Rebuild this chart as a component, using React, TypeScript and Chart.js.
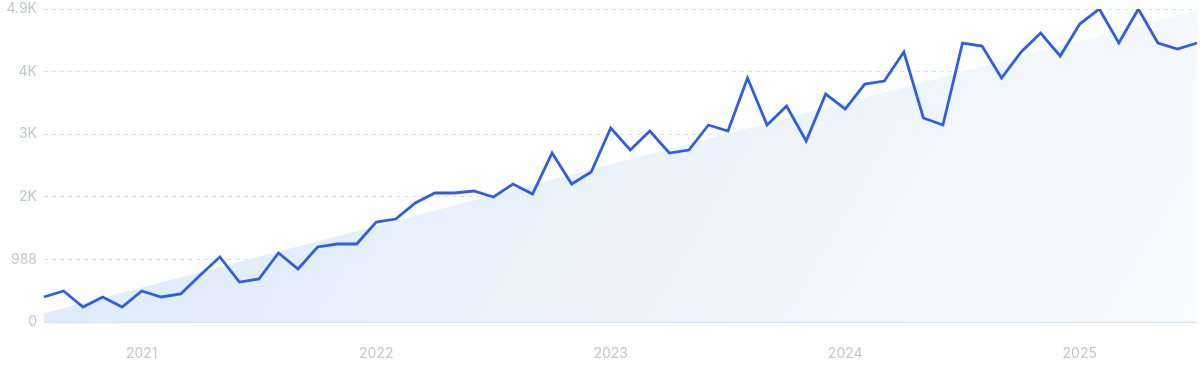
import React, { useEffect, useRef } from "react";
import { Chart, registerables } from "chart.js";

Chart.register(...registerables);

const months: string[] = [
  "Aug 2020", "Sep 2020", "Oct 2020", "Nov 2020", "Dec 2020",
  "Jan 2021", "Feb 2021", "Mar 2021", "Apr 2021", "May 2021", "Jun 2021", "Jul 2021", "Aug 2021", "Sep 2021", "Oct 2021", "Nov 2021", "Dec 2021",
  "Jan 2022", "Feb 2022", "Mar 2022", "Apr 2022", "May 2022", "Jun 2022", "Jul 2022", "Aug 2022", "Sep 2022", "Oct 2022", "Nov 2022", "Dec 2022",
  "Jan 2023", "Feb 2023", "Mar 2023", "Apr 2023", "May 2023", "Jun 2023", "Jul 2023", "Aug 2023", "Sep 2023", "Oct 2023", "Nov 2023", "Dec 2023",
  "Jan 2024", "Feb 2024", "Mar 2024", "Apr 2024", "May 2024", "Jun 2024", "Jul 2024", "Aug 2024", "Sep 2024", "Oct 2024", "Nov 2024", "Dec 2024",
  "Jan 2025", "Feb 2025", "Mar 2025", "Apr 2025", "May 2025", "Jun 2025", "Jul 2025",
];

const searches: number[] = [
  395, 489, 237, 395, 237, 489, 395, 442, 742, 1026, 631, 679,
  1089, 836, 1184, 1231, 1231, 1578, 1625, 1878, 2036, 2036, 2067, 1973,
  2178, 2020, 2667, 2178, 2367, 3062, 2714, 3014, 2667, 2714, 3109, 3014,
  3851, 3109, 3409, 2856, 3598, 3361, 3756, 3803, 4261, 3220, 3109, 4403,
  4356, 3851, 4261, 4561, 4198, 4703, 4940, 4403, 4940, 4403, 4308, 4403,
];

const trendStart = 140;
const trendEnd = 4920;

const yTickValues: number[] = [0, 988, 1976, 2964, 3952, 4940];
const yTickLabels: string[] = ["0", "988", "2K", "3K", "4K", "4.9K"];
const yearTickMonths: string[] = ["Jan 2021", "Jan 2022", "Jan 2023", "Jan 2024", "Jan 2025"];

export default function App() {
  const canvasRef = useRef<HTMLCanvasElement | null>(null);

  useEffect(() => {
    if (!canvasRef.current) return;
    const font = { family: "Inter, 'Noto Sans', sans-serif", size: 14 };
    const chart = new Chart(canvasRef.current, {
      type: "line",
      data: {
        labels: months,
        datasets: [
          {
            label: "Searches",
            data: searches,
            borderColor: "#2e5ee6",
            borderWidth: 2.8,
            pointRadius: 0,
            tension: 0,
            fill: false,
            order: 1,
          },
          {
            label: "Trend",
            data: [
              { x: months[0], y: trendStart },
              { x: months[months.length - 1], y: trendEnd },
            ] as any,
            borderWidth: 0,
            borderColor: "rgba(0,0,0,0)",
            pointRadius: 0,
            tension: 0,
            fill: "origin",
            order: 2,
            backgroundColor: (ctx: any) => {
              const area = ctx.chart.chartArea;
              if (!area) return "#e6effb";
              const w = area.right - area.left;
              const g = ctx.chart.ctx.createLinearGradient(
                area.left,
                area.top,
                area.right,
                area.top + w * 0.58
              );
              g.addColorStop(0, "#dce9f9");
              g.addColorStop(1, "#fdfeff");
              return g;
            },
          },
        ],
      },
      options: {
        animation: false,
        responsive: true,
        maintainAspectRatio: false,
        layout: { padding: { top: 9, right: 3, left: 0, bottom: 0 } },
        plugins: {
          legend: { display: false },
          tooltip: { enabled: false },
        },
        scales: {
          x: {
            type: "category",
            grid: { display: false, drawTicks: false },
            border: { display: false },
            afterBuildTicks: (scale: any) => {
              scale.ticks = yearTickMonths.map((m) => ({
                value: months.indexOf(m),
                label: m.slice(4),
              }));
            },
            afterFit: (scale: any) => {
              scale.height = 49;
              scale.paddingLeft = 0;
              scale.paddingRight = 0;
            },
            ticks: {
              autoSkip: false,
              maxRotation: 0,
              padding: 23,
              color: "#c3c6d0",
              font,
              callback: function (this: any, value: any, index: number, ticks: any[]) {
                return ticks[index].label;
              },
            },
          },
          y: {
            min: 0,
            max: 4940,
            grid: {
              drawTicks: false,
              color: (ctx: any) => (ctx.index === 0 ? "#cfe3fa" : "#d6e5f6"),
              lineWidth: 1,
            },
            border: {
              display: false,
              dash: (ctx: any) => (ctx.index === 0 ? [] : [4, 4]),
            } as any,
            afterBuildTicks: (scale: any) => {
              scale.ticks = yTickValues.map((v) => ({ value: v }));
            },
            afterFit: (scale: any) => {
              scale.width = 44;
              scale.paddingTop = 0;
              scale.paddingBottom = 0;
            },
            ticks: {
              padding: 7,
              color: "#c3c6d0",
              font,
              callback: (value: any) => {
                const i = yTickValues.indexOf(Number(value));
                return i >= 0 ? yTickLabels[i] : "";
              },
            },
          },
        },
      },
    });
    return () => chart.destroy();
  }, []);

  return (
    <div
      style={{
        position: "fixed",
        left: 0,
        top: 0,
        width: 1200,
        height: 371,
        background: "#ffffff",
      }}
    >
      <canvas ref={canvasRef} />
    </div>
  );
}
